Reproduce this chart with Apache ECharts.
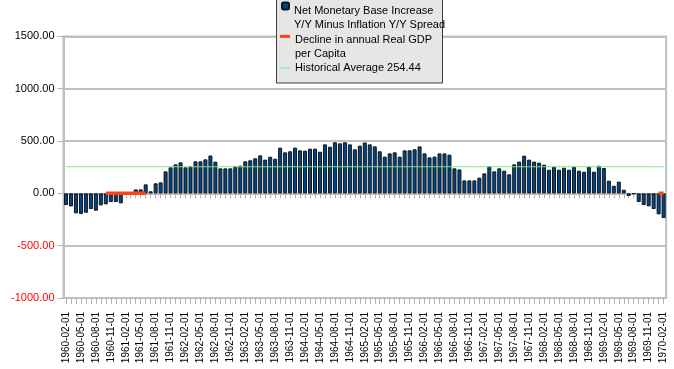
<!DOCTYPE html>
<html>
<head>
<meta charset="utf-8">
<script src="https://cdn.jsdelivr.net/npm/echarts@6/dist/echarts.min.js"></script>
<style>
html,body{margin:0;padding:0;background:#fff;}
#chart{width:674px;height:369px;}
</style>
</head>
<body>
<div id="chart"></div>
<script>
// Monthly categories 1960-02-01 .. 1970-02-01
const categories = [];
for (let i = 0; i < 121; i++) {
  const m0 = 1 + i; // months since 1960-01
  const y = 1960 + Math.floor(m0 / 12);
  const m = (m0 % 12) + 1;
  categories.push(y + '-' + String(m).padStart(2, '0') + '-01');
}

const spreadValues = [
  -112, -125, -191, -197, -185, -150, -166, -115, -105, -83, -83, -96,
  -15, 5, 38, 38, 86, 20, 96, 105, 210, 249, 277, 296,
  249, 259, 306, 306, 325, 362, 303, 239, 239, 239, 258, 265,
  306, 316, 335, 363, 322, 350, 331, 437, 392, 402, 437, 411,
  408, 427, 427, 398, 468, 446, 488, 478, 488, 468, 421, 456,
  486, 468, 449, 402, 351, 382, 392, 351, 411, 411, 421, 449,
  382, 344, 351, 382, 382, 370, 239, 229, 124, 124, 124, 150,
  191, 258, 210, 239, 217, 182, 277, 303, 360, 322, 303, 293,
  274, 226, 255, 226, 245, 226, 255, 217, 207, 255, 207, 264,
  242, 121, 73, 112, 35, -25, -6, -83, -112, -124, -150, -201,
  -236
];

const declinePeriods = [
  ['1960-10-01', '1961-06-01'],
  ['1970-01-01', '1970-02-01']
];

const historicalAverage = 254.44;

const yTicks = [-1000, -500, 0, 500, 1000, 1500];

const legendLines = [
  ['Net Monetary Base Increase', 'Y/Y Minus Inflation Y/Y Spread'],
  ['Decline in annual Real GDP', 'per Capita'],
  ['Historical Average 254.44']
];
const seriesNames = legendLines.map(l => l.join(' '));

const declineData = categories.map(c => {
  for (const [s, e] of declinePeriods) if (c >= s && c <= e) return 0;
  return null;
});
const averageData = categories.map(() => historicalAverage);

const FONT = 'Liberation Sans';
const chart = echarts.init(document.getElementById('chart'), null, {renderer: 'canvas'});

function twoLineLegend(idx, left, top, iw, ih, icon, spacer) {
  return {
    z: 5, left: left, top: top, padding: 0, selectedMode: false, orient: 'vertical',
    itemWidth: iw, itemHeight: ih,
    data: [{name: seriesNames[idx], icon: icon}],
    formatter: () => '{s| }\n{a|' + legendLines[idx][0] + '}\n{a|' + legendLines[idx][1] + '}',
    textStyle: {
      fontFamily: FONT, fontSize: 11, color: '#000',
      rich: {
        s: {fontSize: 11, lineHeight: spacer, fontFamily: FONT},
        a: {fontSize: 11, lineHeight: 14, color: '#000', fontFamily: FONT}
      }
    }
  };
}

chart.setOption({
  animation: false,
  backgroundColor: '#ffffff',
  textStyle: {fontFamily: FONT},
  grid: {
    left: 63.5, right: 7.9, top: 36.4, bottom: 71,
    show: true, borderColor: '#c0c0c0', borderWidth: 2
  },
  graphic: [{
    type: 'rect', z: 3, silent: true,
    shape: {x: 276.5, y: -3, width: 166, height: 86},
    style: {fill: '#e6e6e6', stroke: '#3c3c3c', lineWidth: 1}
  }],
  legend: [
    twoLineLegend(0, 281, -13.5, 7, 7, 'roundRect', 24),
    twoLineLegend(1, 280, 16.9, 10, 3, 'rect', 22),
    {
      z: 5, left: 280, top: 61, padding: 0, selectedMode: false, orient: 'vertical',
      itemWidth: 10, itemHeight: 1,
      data: [{name: seriesNames[2], icon: 'rect'}],
      textStyle: {fontSize: 11, lineHeight: 14, color: '#000', fontFamily: FONT}
    }
  ],
  xAxis: [
    {
      type: 'category', data: categories, position: 'bottom', boundaryGap: true,
      axisLine: {show: false, onZero: false},
      axisTick: {show: true, interval: 0, length: 6, alignWithLabel: true,
        lineStyle: {color: '#b3b3b3', width: 1}},
      axisLabel: {interval: 2, rotate: 90, fontSize: 10, color: '#000', margin: 14, fontFamily: FONT},
      splitLine: {show: false}
    },
    {
      type: 'category', data: categories, position: 'top', boundaryGap: true,
      axisLine: {show: true, onZero: true, lineStyle: {color: '#b3b3b3', width: 1}},
      axisTick: {show: true, inside: true, interval: 0, length: 5, alignWithLabel: true,
        lineStyle: {color: '#b3b3b3', width: 1}},
      axisLabel: {show: false},
      splitLine: {show: false}
    }
  ],
  yAxis: {
    type: 'value', min: yTicks[0], max: yTicks[yTicks.length - 1], interval: 500,
    axisLine: {show: true, lineStyle: {color: '#c0c0c0', width: 2}},
    axisTick: {show: true, length: 6, lineStyle: {color: '#b3b3b3', width: 1}},
    axisLabel: {
      fontSize: 11, margin: 9, fontFamily: FONT,
      formatter: v => v.toFixed(2),
      color: v => (v < 0 ? '#ff0000' : '#000000')
    },
    splitLine: {show: true, lineStyle: {color: '#c0c0c0', width: 2}}
  },
  series: [
    {
      name: seriesNames[0], type: 'bar', xAxisIndex: 0, data: spreadValues,
      barWidth: 4, z: 2,
      itemStyle: {color: '#004586', borderColor: '#101418', borderWidth: 1}
    },
    {
      name: seriesNames[1], type: 'line', xAxisIndex: 0, data: declineData,
      showSymbol: false, symbol: 'none', connectNulls: false, z: 3,
      itemStyle: {color: '#ff420e'},
      lineStyle: {color: '#ff420e', width: 3.5}
    },
    {
      name: seriesNames[2], type: 'line', xAxisIndex: 0, data: averageData,
      showSymbol: false, symbol: 'none', z: 4,
      itemStyle: {color: '#77ee77'},
      lineStyle: {color: '#77ee77', width: 1}
    }
  ]
});
</script>
</body>
</html>
